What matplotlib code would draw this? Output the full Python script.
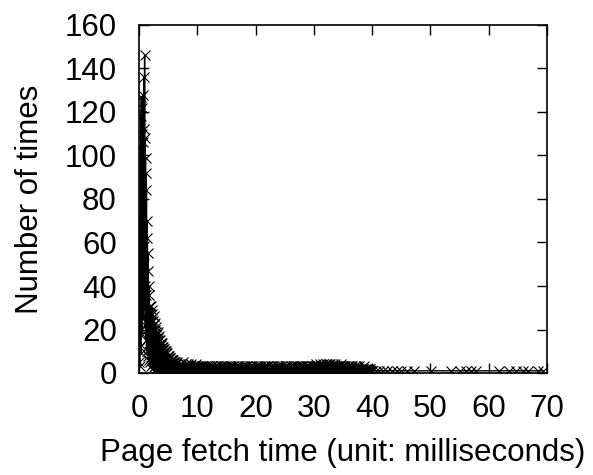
import numpy as np
import matplotlib
matplotlib.use("Agg")
import matplotlib.pyplot as plt

plt.rcParams['font.family'] = ['Liberation Sans', 'DejaVu Sans']

# Histogram of page fetch times: count of fetches per time bin (ms).
# Peak region, bins of 0.04 ms starting at 0.04 ms
peak_start, peak_step = 0.04, 0.04
peak_counts = [5, 38, 3, 72, 12, 104, 20, 118, 9, 127,
               35, 110, 18, 122, 44, 106, 25, 128, 58, 112,
               30, 136, 50, 146, 40, 108, 22, 99, 36, 92,
               15, 84, 28, 70, 10, 62, 24, 55, 8, 47,
               19, 40, 6, 36, 14, 31, 5, 27, 11, 24]

# Decay region, bins of 0.05 ms starting at 2.05 ms
decay_start, decay_step = 2.05, 0.05
decay_counts = [3, 31, 8, 27, 2, 29, 6, 24, 4, 26,
                1, 22, 9, 23, 3, 20, 5, 21, 2, 19,
                7, 18, 1, 19, 4, 16, 2, 17, 6, 15,
                1, 15, 3, 14, 2, 13, 5, 14, 1, 12,
                3, 12, 1, 11, 4, 11, 2, 10, 1, 10,
                3, 9, 1, 10, 2, 9, 1, 8, 3, 8,
                1, 8, 2, 7, 1, 7, 3, 7, 1, 6,
                2, 6, 1, 6, 2, 5, 1, 6, 1, 5]

# Long tail, bins of 0.1 ms starting at 6.1 ms
tail_start, tail_step = 6.1, 0.1
tail_counts = [1, 5, 2, 4, 1, 5, 1, 3, 2, 4, 1, 4, 1, 3, 2, 5, 1, 3, 1, 4,
               2, 3, 1, 4, 1, 3, 2, 3, 1, 4, 1, 3, 1, 2, 2, 3, 1, 4, 1, 3,
               1, 3, 2, 3, 1, 2, 1, 3, 2, 3, 1, 2, 1, 3, 1, 3, 2, 2, 1, 3,
               1, 2, 1, 3, 2, 3, 1, 2, 1, 3, 1, 2, 2, 3, 1, 3, 1, 2, 1, 3,
               2, 3, 1, 2, 1, 3, 1, 2, 2, 3, 1, 3, 1, 2, 1, 3, 2, 3, 1, 2,
               1, 3, 1, 2, 2, 3, 1, 2, 1, 3, 1, 3, 2, 2, 1, 3, 1, 2, 1, 3,
               1, 2, 2, 3, 1, 3, 1, 2, 1, 3, 2, 3, 1, 2, 1, 3, 1, 2, 2, 3,
               1, 3, 1, 2, 1, 3, 2, 2, 1, 3, 1, 2, 1, 3, 2, 3, 1, 2, 1, 3,
               2, 3, 1, 2, 1, 3, 1, 3, 2, 2, 1, 3, 1, 2, 1, 3, 2, 3, 1, 2,
               1, 3, 1, 2, 2, 3, 1, 2, 1, 3, 1, 3, 2, 2, 1, 3, 1, 2, 1, 3,
               1, 2, 2, 3, 1, 3, 1, 2, 1, 3, 2, 3, 1, 2, 1, 3, 1, 3, 2, 3,
               1, 3, 1, 2, 2, 3, 1, 3, 1, 3, 2, 3, 1, 2, 1, 3, 2, 3, 1, 3,
               2, 3, 1, 4, 2, 3, 1, 3, 2, 4, 1, 3, 2, 3, 1, 4, 2, 3, 1, 4,
               2, 4, 1, 3, 2, 4, 1, 4, 2, 3, 1, 4, 2, 3, 1, 4, 2, 3, 1, 3,
               2, 3, 1, 3, 2, 4, 1, 3, 1, 3, 2, 3, 1, 3, 1, 2, 2, 3, 1, 3,
               1, 2, 1, 3, 2, 3, 1, 2, 1, 3, 1, 2, 2, 3, 1, 2, 1, 3, 1, 2,
               1, 2, 1, 2, 2, 3, 1, 2, 1, 2, 1, 2, 1, 2, 1, 1, 2, 1, 1, 1]

# Sparse slow fetches beyond 40 ms
sparse_times = [40.6, 41.2, 41.8, 42.5, 43.4, 44.3, 45.0, 45.9, 47.1, 50.1,
                53.5, 55.0, 56.1, 57.0, 57.8, 61.8, 63.5, 64.7, 65.8, 66.7,
                68.4, 69.3]
sparse_counts = [1] * len(sparse_times)

x_ticks = [0, 10, 20, 30, 40, 50, 60, 70]
y_ticks = [0, 20, 40, 60, 80, 100, 120, 140, 160]


def bins(start, step, counts):
    return start + step * np.arange(len(counts))


times = np.concatenate([bins(peak_start, peak_step, peak_counts),
                        bins(decay_start, decay_step, decay_counts),
                        bins(tail_start, tail_step, tail_counts),
                        np.array(sparse_times)])
counts = np.concatenate([peak_counts, decay_counts, tail_counts, sparse_counts])

fig = plt.figure(figsize=(5.93, 4.75), dpi=100)
ax = fig.add_axes([139 / 593, 1 - 373 / 475, (547 - 139) / 593, (373 - 25) / 475])

ax.plot(times, counts, color='black', linewidth=1.0, marker='x',
        markersize=6.5, markeredgewidth=0.8)

ax.set_xlim(0, 70)
ax.set_ylim(0, 160)
ax.set_xticks(x_ticks)
ax.set_yticks(y_ticks)
ax.tick_params(direction='in', length=7, width=1.0, labelsize=22.5,
               top=True, right=True)
ax.tick_params(axis='x', pad=15)
ax.tick_params(axis='y', pad=16)
for s in ax.spines.values():
    s.set_linewidth(1.2)

ax.set_xlabel('Page fetch time (unit: milliseconds)', fontsize=22.5, labelpad=10)
ax.set_ylabel('Number of times', fontsize=22.5, labelpad=14)

fig.savefig('out.png', dpi=100)
